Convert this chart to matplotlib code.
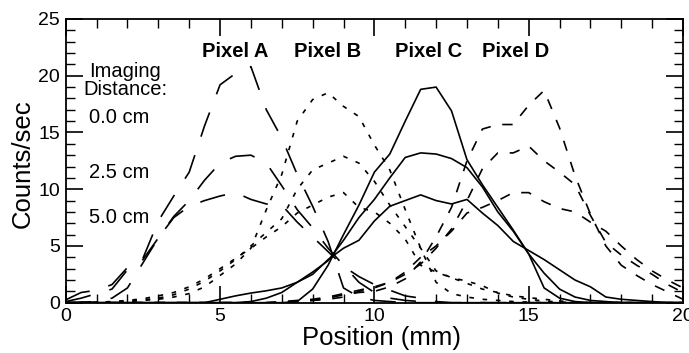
import matplotlib
matplotlib.use('Agg')
import matplotlib.pyplot as plt
from matplotlib.ticker import MultipleLocator

plt.rcParams['font.family'] = ['Liberation Sans', 'DejaVu Sans']

# ---------------- data ----------------
position_mm = [0.0, 0.5, 1.0, 1.5, 2.0, 2.5, 3.0, 3.5, 4.0, 4.5,
               5.0, 5.5, 6.0, 6.5, 7.0, 7.5, 8.0, 8.5, 9.0, 9.5,
               10.0, 10.5, 11.0, 11.5, 12.0, 12.5, 13.0, 13.5, 14.0, 14.5,
               15.0, 15.5, 16.0, 16.5, 17.0, 17.5, 18.0, 18.5, 19.0, 19.5, 20.0]

pixel_a_0cm = [0.25, 0.9, 1.1, 1.6, 3.1, 3.9, 7.2, 9.4, 11.5, 15.6,
               19.2, 20.2, 20.8, 17.0, 14.5, 11.3, 8.5, 5.4, 1.3, 0.5,
               0.2, 0.1, 0, 0, 0, 0, 0, 0, 0, 0,
               0, 0, 0, 0, 0, 0, 0, 0, 0, 0, 0]
pixel_a_25cm = [0.1, 0.4, 0.8, 1.2, 2.9, 3.8, 5.7, 7.6, 9.0, 10.8,
                12.3, 12.9, 13.0, 12.3, 10.3, 8.2, 6.6, 4.8, 3.3, 1.8,
                0.9, 0.4, 0.2, 0.1, 0, 0, 0, 0, 0, 0,
                0, 0, 0, 0, 0, 0, 0, 0, 0, 0, 0]
pixel_a_5cm = [0, 0.05, 0.1, 0.4, 1.3, 3.5, 5.7, 7.5, 8.5, 9.0,
               9.4, 9.7, 9.1, 8.7, 8.6, 7.1, 5.8, 4.5, 3.2, 2.3,
               1.6, 1.1, 0.6, 0.4, 0.1, 0, 0, 0, 0, 0,
               0, 0, 0, 0, 0, 0, 0, 0, 0, 0, 0]

pixel_b_0cm = [0, 0, 0, 0.05, 0.1, 0.2, 0.3, 0.5, 0.8, 1.4,
               2.4, 3.4, 4.8, 8.2, 11.3, 16.0, 17.9, 18.5, 17.3, 16.4,
               13.9, 11.7, 8.2, 4.8, 1.8, 0.8, 0.5, 0.3, 0.2, 0.1,
               0.05, 0, 0, 0, 0, 0, 0, 0, 0, 0, 0]
pixel_b_25cm = [0, 0, 0, 0.05, 0.1, 0.25, 0.4, 0.7, 1.2, 1.9,
                2.8, 3.8, 5.0, 6.2, 7.4, 10.0, 11.7, 12.3, 12.9, 12.3,
                10.7, 8.6, 6.7, 4.8, 2.8, 2.2, 1.9, 1.5, 0.85, 0.5,
                0.3, 0.15, 0.05, 0, 0, 0, 0, 0, 0, 0, 0]
pixel_b_5cm = [0, 0, 0.05, 0.1, 0.2, 0.35, 0.6, 0.9, 1.4, 2.1,
               3.0, 3.9, 4.8, 5.8, 6.7, 7.9, 8.6, 9.3, 9.7, 8.4,
               8.0, 7.0, 5.6, 3.3, 2.7, 2.2, 1.7, 1.2, 0.9, 0.6,
               0.45, 0.3, 0.15, 0.05, 0, 0, 0, 0, 0, 0, 0]

pixel_c_0cm = [0, 0, 0, 0, 0, 0, 0, 0, 0, 0,
               0, 0, 0, 0, 0, 0.1, 1.2, 3.3, 6.0, 8.6,
               11.5, 13.1, 16.0, 18.8, 19.0, 16.9, 12.6, 10.4, 8.4, 6.4,
               4.3, 1.3, 0.4, 0.1, 0, 0, 0, 0, 0, 0, 0]
pixel_c_25cm = [0, 0, 0, 0, 0, 0, 0, 0, 0, 0,
                0, 0, 0.1, 0.4, 0.9, 1.8, 2.7, 3.7, 5.5, 7.5,
                9.1, 11.0, 12.8, 13.2, 13.1, 12.7, 11.9, 10.2, 8.0, 6.3,
                4.3, 2.6, 1.2, 0.5, 0.2, 0.1, 0, 0, 0, 0, 0]
pixel_c_5cm = [0, 0, 0, 0, 0, 0, 0, 0, 0, 0,
               0.3, 0.6, 0.85, 1.05, 1.3, 1.8, 2.5, 3.8, 4.8, 5.5,
               7.2, 8.5, 9.0, 9.5, 9.0, 8.7, 9.1, 7.9, 6.8, 5.4,
               4.6, 3.8, 2.9, 2.0, 1.4, 0.5, 0.3, 0.2, 0.1, 0, 0]

pixel_d_0cm = [0, 0, 0, 0, 0, 0, 0, 0, 0, 0,
               0, 0, 0, 0, 0.05, 0.1, 0.2, 0.4, 0.7, 0.9,
               1.0, 1.4, 2.1, 3.6, 5.8, 8.4, 12.5, 15.3, 15.7, 15.7,
               17.4, 18.7, 15.4, 11.2, 7.8, 5.0, 3.3, 2.4, 1.6, 0.95, 0.3]
pixel_d_25cm = [0, 0, 0, 0, 0, 0, 0, 0, 0, 0,
                0, 0, 0, 0, 0, 0.1, 0.2, 0.3, 0.5, 1.0,
                1.3, 1.8, 2.5, 3.4, 4.8, 6.5, 9.0, 11.8, 13.2, 13.2,
                13.8, 12.5, 11.5, 10.4, 7.7, 5.3, 4.2, 3.3, 2.5, 1.6, 0.9]
pixel_d_5cm = [0, 0, 0, 0, 0, 0, 0, 0, 0, 0,
               0, 0, 0, 0, 0.1, 0.2, 0.3, 0.5, 0.8, 1.1,
               1.4, 1.8, 2.7, 4.0, 5.0, 6.3, 7.9, 8.4, 9.0, 9.7,
               9.7, 8.9, 8.3, 8.0, 7.1, 6.3, 5.0, 3.8, 2.8, 2.0, 1.3]

pixel_names = ['Pixel A', 'Pixel B', 'Pixel C', 'Pixel D']
pixel_series = [[pixel_a_0cm, pixel_a_25cm, pixel_a_5cm],
                [pixel_b_0cm, pixel_b_25cm, pixel_b_5cm],
                [pixel_c_0cm, pixel_c_25cm, pixel_c_5cm],
                [pixel_d_0cm, pixel_d_25cm, pixel_d_5cm]]
distance_labels = ['0.0 cm', '2.5 cm', '5.0 cm']

# ---------------- styling ----------------
LW = 1.2


def pattern(on_pt, off_pt):
    return (0, (on_pt / LW, off_pt / LW))


line_styles = [pattern(18.5, 14.0), pattern(3.3, 6.3), '-', pattern(7.5, 8.5)]
label_x = [5.5, 8.47, 11.76, 14.57]

fig = plt.figure(figsize=(6.89, 3.53), dpi=100)
ax = fig.add_axes([0.0954, 0.1425, 0.8959, 0.8037])

for series, ls in zip(pixel_series, line_styles):
    for ys in series:
        ax.plot(position_mm, ys, color='black', lw=LW, linestyle=ls)

ax.set_xlim(0, 20)
ax.set_ylim(0, 25)
ax.xaxis.set_major_locator(MultipleLocator(5))
ax.xaxis.set_minor_locator(MultipleLocator(1))
ax.yaxis.set_major_locator(MultipleLocator(5))
ax.yaxis.set_minor_locator(MultipleLocator(1))
ax.tick_params(which='both', direction='in', top=True, right=True, colors='black')
ax.tick_params(which='major', length=12, width=1.2, labelsize=14, pad=4)
ax.tick_params(which='minor', length=6.5, width=1.0)
for sp in ax.spines.values():
    sp.set_linewidth(1.3)

ax.set_xlabel('Position (mm)', fontsize=18.5, va='center')
ax.xaxis.set_label_coords(0.512, -0.123)
ax.set_ylabel('Counts/sec', fontsize=18.5, va='center')
ax.yaxis.set_label_coords(-0.069, 0.489)

for name, lx in zip(pixel_names, label_x):
    ax.text(lx, 22.1, name, ha='center', va='center', fontsize=14.5, fontweight='bold')

ax.text(1.93, 20.4, 'Imaging', ha='center', va='center', fontsize=14.5)
ax.text(1.93, 18.8, 'Distance:', ha='center', va='center', fontsize=14.5)
for lab, ly in zip(distance_labels, [16.3, 11.5, 7.5]):
    ax.text(0.75, ly, lab, ha='left', va='center', fontsize=14.5)

fig.savefig('out.png', dpi=100)
